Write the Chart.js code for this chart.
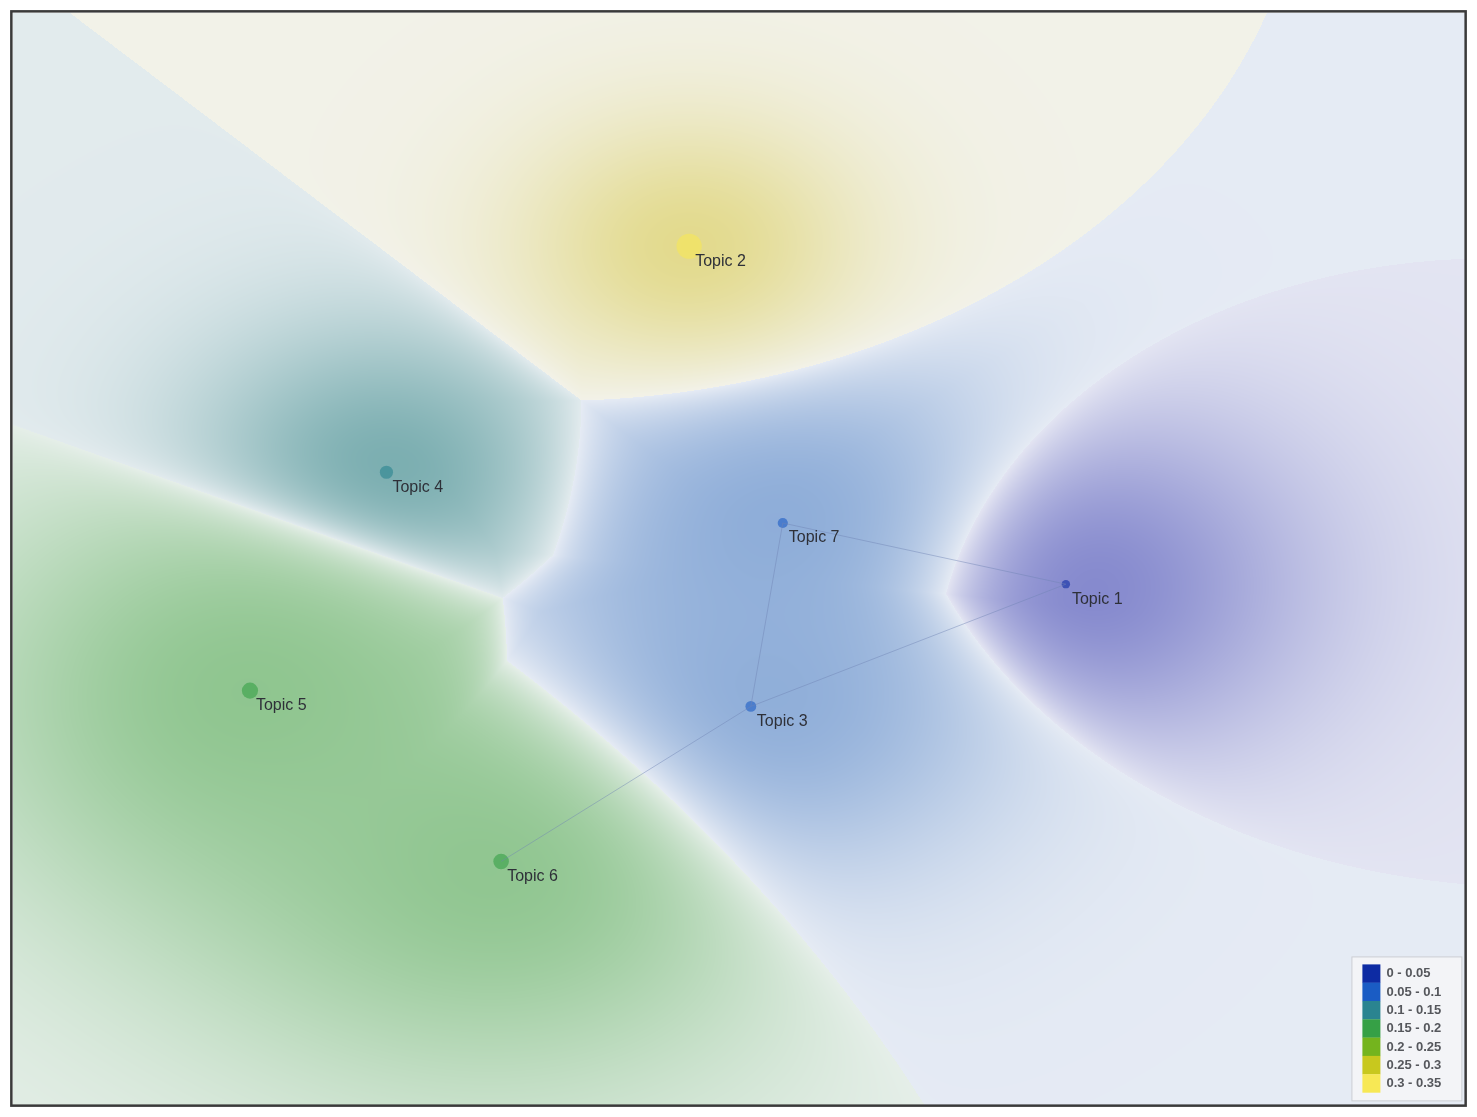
<!DOCTYPE html>
<html>
<head>
<meta charset="utf-8">
<script src="https://cdn.jsdelivr.net/npm/chart.js@4.4.1/dist/chart.umd.min.js"></script>
<style>
  html, body { margin: 0; padding: 0; background: #fff; }
  #wrap { width: 1477px; height: 1117px; }
</style>
</head>
<body>
<div id="wrap"><canvas id="topicMap"></canvas></div>
<script>
// topic positions on the map (square layout space, -1..1)
const topicNames = ["Topic 1", "Topic 2", "Topic 3", "Topic 4", "Topic 5", "Topic 6", "Topic 7"];
const topicX = [0.451, -0.068, 0.017, -0.485, -0.673, -0.327, 0.061];
const topicY = [-0.047, 0.572, -0.271, 0.158, -0.242, -0.555, 0.065];
const topicShare = [0.04, 0.32, 0.08, 0.12, 0.17, 0.16, 0.07];

// connections between topics (1-based)
const links = [[7, 1], [7, 3], [3, 1], [3, 6]];

// colour scale
const binLabels = ["0 - 0.05", "0.05 - 0.1", "0.1 - 0.15", "0.15 - 0.2", "0.2 - 0.25", "0.25 - 0.3", "0.3 - 0.35"];
const binColors = ["#0d2ba3", "#1a5cc4", "#2a8490", "#36a046", "#74b41e", "#c8c81e", "#f7e855"];
// background tint and glow spread per bin
const regionTints = [[62, 68, 178], [84, 132, 198], [52, 132, 134], [86, 170, 84], [110, 165, 40], [185, 180, 45], [216, 202, 80]];
const regionSpread = [0.24, 0.24, 0.2, 0.3, 0.25, 0.2, 0.17];

// territory model: how far each topic reaches and how strongly it pulls
const regionReach = [1, 1, 0.6, 1, 1, 0.7, 0.6];
const regionPull = [-0.024, 0.012, 0.017, 0, 0.072, 0.04, -0.012];

const binOf = (v) => Math.min(binLabels.length - 1, Math.floor(v / 0.05));

const hexToRgb = (h) => [1, 3, 5].map((i) => parseInt(h.slice(i, i + 2), 16));

const regionPlugin = {
  id: "regions",
  beforeDatasetsDraw(chart) {
    const { ctx, chartArea: a, scales: { x, y } } = chart;
    const w = Math.round(a.right - a.left);
    const h = Math.round(a.bottom - a.top);
    const img = ctx.createImageData(w, h);
    const px = img.data;
    const ux = x.getPixelForValue(1) - x.getPixelForValue(0);
    const uy = y.getPixelForValue(0) - y.getPixelForValue(1);
    const sx = topicX.map((v) => x.getPixelForValue(v) - a.left);
    const sy = topicY.map((v) => y.getPixelForValue(v) - a.top);
    const bins = topicShare.map(binOf);
    const groups = [...new Set(bins)];
    const gIdx = bins.map((b) => groups.indexOf(b));
    const spread = bins.map((b) => 2 * regionSpread[b] * regionSpread[b]);
    const n = topicX.length, G = groups.length;
    const M = 0.035;
    const base = [245, 246, 249];
    const aMin = 0.1, aMax = 0.64;
    const gScore = new Float64Array(G);
    const gDark = new Float64Array(G);
    for (let j = 0; j < h; j++) {
      for (let i = 0; i < w; i++) {
        for (let g = 0; g < G; g++) { gScore[g] = Infinity; gDark[g] = 1; }
        for (let k = 0; k < n; k++) {
          const dx = (i - sx[k]) / ux, dy = (j - sy[k]) / uy;
          const d2 = dx * dx + dy * dy;
          const s = regionReach[k] * d2 - regionPull[k];
          const g = gIdx[k];
          if (s < gScore[g]) gScore[g] = s;
          gDark[g] *= 1 - Math.exp(-d2 / spread[k]);
        }
        let b1 = 0;
        for (let g = 1; g < G; g++) if (gScore[g] < gScore[b1]) b1 = g;
        let s2 = Infinity;
        for (let g = 0; g < G; g++) if (g !== b1 && gScore[g] < s2) s2 = gScore[g];
        const margin = s2 - gScore[b1];
        const t = (1 - gDark[b1]) * (1 - Math.exp(-margin / M));
        const al = aMin + (aMax - aMin) * t;
        const tint = regionTints[groups[b1]];
        const o = (j * w + i) * 4;
        px[o] = base[0] * (1 - al) + tint[0] * al;
        px[o + 1] = base[1] * (1 - al) + tint[1] * al;
        px[o + 2] = base[2] * (1 - al) + tint[2] * al;
        px[o + 3] = 255;
      }
    }
    ctx.putImageData(img, Math.round(a.left), Math.round(a.top));
  }
};

const labelPlugin = {
  id: "topicLabels",
  afterDatasetsDraw(chart) {
    const { ctx, scales: { x, y } } = chart;
    ctx.save();
    ctx.font = "16px 'Liberation Sans', Arial, sans-serif";
    ctx.fillStyle = "#2e3038";
    ctx.textBaseline = "middle";
    ctx.textAlign = "left";
    topicNames.forEach((name, i) => {
      ctx.fillText(name, x.getPixelForValue(topicX[i]) + 6, y.getPixelForValue(topicY[i]) + 15);
    });
    ctx.restore();
  }
};

const framePlugin = {
  id: "frameAndScale",
  afterDraw(chart) {
    const { ctx, chartArea: a } = chart;
    ctx.save();
    // colour scale box
    const bx = a.right - 113, by = a.bottom - 148, bw = 111, bh = 145;
    ctx.fillStyle = "#f3f4f7";
    ctx.fillRect(bx, by, bw, bh);
    ctx.strokeStyle = "#c9ccd2";
    ctx.lineWidth = 1;
    ctx.strokeRect(bx + 0.5, by + 0.5, bw - 1, bh - 1);
    ctx.font = "bold 13px 'Liberation Sans', Arial, sans-serif";
    ctx.textBaseline = "middle";
    binLabels.forEach((lab, i) => {
      const ry = by + 8 + i * 18.3;
      ctx.fillStyle = binColors[i];
      ctx.fillRect(bx + 11, ry, 18, 18.5);
      ctx.fillStyle = "#55575c";
      ctx.fillText(lab, bx + 35, ry + 9.5);
    });
    // outer frame
    ctx.strokeStyle = "#3a3a3a";
    ctx.lineWidth = 2.5;
    ctx.strokeRect(a.left - 1.25, a.top - 1.25, a.right - a.left + 2.5, a.bottom - a.top + 2.5);
    ctx.restore();
  }
};

const linkSets = links.map(([p, q]) => ({
  type: "line",
  data: [
    { x: topicX[p - 1], y: topicY[p - 1] },
    { x: topicX[q - 1], y: topicY[q - 1] }
  ],
  borderColor: "rgba(110,130,180,0.45)",
  borderWidth: 1,
  pointRadius: 0,
  fill: false
}));

const ctx = document.getElementById("topicMap");

new Chart(ctx, {
  type: "scatter",
  data: {
    datasets: [
      ...linkSets,
      {
        data: topicX.map((v, i) => ({ x: v, y: topicY[i] })),
        pointRadius: topicShare.map((v) => 3 + 30 * v),
        pointBackgroundColor: topicShare.map((v) => {
          const [r, g, b] = hexToRgb(binColors[binOf(v)]);
          return `rgba(${r},${g},${b},0.6)`;
        }),
        pointBorderWidth: 0
      }
    ]
  },
  options: {
    responsive: true,
    maintainAspectRatio: false,
    animation: false,
    layout: { padding: { left: 10, top: 10, right: 11, bottom: 11 } },
    scales: {
      x: { type: "linear", min: -1, max: 1, display: false },
      y: { type: "linear", min: -1, max: 1, display: false }
    },
    plugins: {
      legend: { display: false },
      tooltip: { enabled: false }
    }
  },
  plugins: [regionPlugin, labelPlugin, framePlugin]
});
</script>
</body>
</html>
